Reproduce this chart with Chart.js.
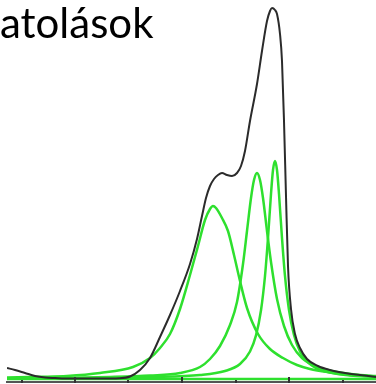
<!DOCTYPE html>
<html>
<head>
<meta charset="utf-8">
<script src="https://cdn.jsdelivr.net/npm/chart.js@4.4.1/dist/chart.umd.min.js"></script>
<style>
  html, body { margin: 0; padding: 0; background: #fff; }
  #wrap { position: relative; width: 376px; height: 384px; overflow: hidden; }
  #fit { position: absolute; left: 0; top: 0; }
  #title { position: absolute; left: 0; top: 1px; font: 42px Lato, sans-serif; line-height: 42px; color: #000; white-space: nowrap; }
</style>
</head>
<body>
<div id="wrap">
  <canvas id="fit" width="376" height="384"></canvas>
  <div id="title">atolások</div>
</div>
<script>
// measured spectrum (black)
const sumX = [7, 15, 25, 35, 45, 55, 70, 90, 110, 120, 130, 140, 150, 160, 170, 180, 190, 197, 202, 206, 210, 214, 218, 222, 227, 232, 237, 241, 245, 250, 257, 262, 267, 270, 272, 275, 277, 280, 282, 284, 286, 288, 291, 295, 300, 307, 318, 330, 345, 360, 376];
const sumY = [11, 9, 6, 3, 1.5, 1, 0.5, 0.5, 0.5, 0.7, 2.5, 9, 21, 42, 64, 88, 115, 140, 163, 181, 193, 200, 204, 206, 204, 203, 206, 213, 228, 258, 295, 328, 358, 368, 371, 369, 365, 345, 318, 258, 183, 113, 70, 45, 31, 20, 13, 9, 6, 4, 2];

// fitted components (green)
const peak1X = [7, 40, 67, 100, 133, 150, 160, 170, 180, 190, 198, 205, 210, 213, 216, 222, 228, 234, 240, 247, 258, 270, 283, 297, 310, 330, 350, 376];
const peak1Y = [1.5, 2.2, 3, 6, 12, 21, 31, 45, 70, 104, 133, 159, 170, 173, 171, 161, 148, 124, 98, 71, 45, 30, 21, 14, 10, 6.5, 4, 2.5];

const peak2X = [7, 60, 110, 150, 180, 200, 210, 220, 230, 237, 243, 247, 251, 254, 257, 260, 263, 267, 271, 277, 284, 292, 302, 317, 337, 360, 376];
const peak2Y = [0.5, 1, 2, 3.5, 6, 12, 20, 33, 54, 77, 115, 148, 181, 199, 206, 199, 181, 148, 117, 80, 53, 34, 21, 12, 7, 4, 3];

const peak3X = [7, 100, 150, 200, 225, 240, 250, 256, 261, 265, 268, 271, 273, 275, 277, 279, 282, 285, 289, 294, 300, 310, 325, 350, 376];
const peak3Y = [0.3, 1, 2, 4, 8, 15, 27.5, 43.6, 68.8, 103, 141, 185, 209, 218, 209, 185, 141, 103, 69, 44, 27.5, 15, 7.6, 3.5, 2];

const baseX = [7, 376];
const baseY = [0, 0];

// axis tick positions
const majorTicks = [75, 182, 289];
const minorTicks = [22, 128, 236, 343];

const GREEN = '#2ee02e';

function toPoints(xs, ys) {
  return xs.map((x, i) => ({ x, y: ys[i] }));
}

// small tick marks standing on the axis line
const tickMarks = {
  id: 'tickMarks',
  afterDatasetsDraw(chart) {
    const scale = chart.scales.x;
    const y0 = chart.chartArea.bottom;
    const ctx = chart.ctx;
    ctx.save();
    ctx.strokeStyle = '#333';
    ctx.lineWidth = 2;
    const mark = (v, len) => {
      const px = Math.round(scale.getPixelForValue(v));
      ctx.beginPath();
      ctx.moveTo(px, y0 + 1);
      ctx.lineTo(px, y0 - len);
      ctx.stroke();
    };
    majorTicks.forEach((v) => mark(v, 5));
    minorTicks.forEach((v) => mark(v, 2));
    ctx.restore();
  },
};

const green = (data) => ({
  data,
  borderColor: GREEN,
  borderWidth: 2.5,
});

new Chart(document.getElementById('fit'), {
  type: 'line',
  data: {
    datasets: [
      { data: toPoints(sumX, sumY), borderColor: '#2b2b2b', borderWidth: 2 },
      green(toPoints(peak1X, peak1Y)),
      green(toPoints(peak2X, peak2Y)),
      green(toPoints(peak3X, peak3Y)),
      green(toPoints(baseX, baseY)),
    ],
  },
  options: {
    responsive: false,
    animation: false,
    devicePixelRatio: 1,
    layout: { padding: { left: 7, right: 0, top: 0, bottom: 2 } },
    elements: {
      point: { radius: 0 },
      line: { cubicInterpolationMode: 'monotone', fill: false },
    },
    plugins: { legend: { display: false }, tooltip: { enabled: false } },
    scales: {
      x: {
        type: 'linear',
        min: 7,
        max: 376,
        grid: { display: false, drawTicks: false },
        ticks: { display: false },
        border: { display: true, color: '#555', width: 2 },
      },
      y: { display: false, min: -3, max: 379 },
    },
  },
  plugins: [tickMarks],
});
</script>
</body>
</html>
